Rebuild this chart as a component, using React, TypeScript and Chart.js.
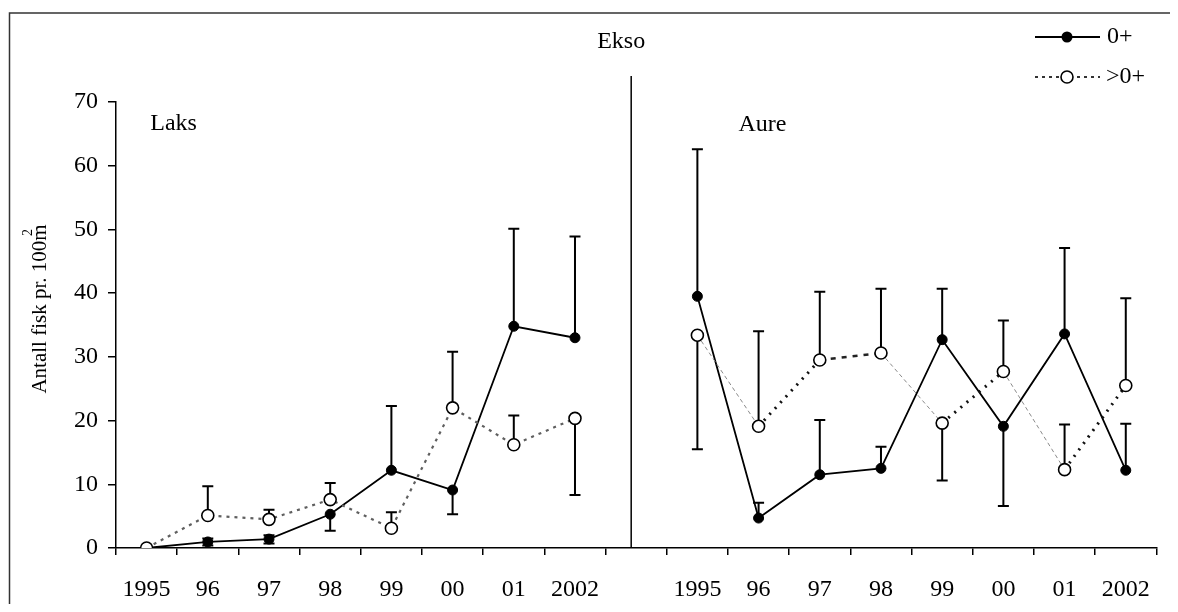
import React, { useEffect, useRef } from "react";
import { Chart, registerables } from "chart.js";

Chart.register(...registerables);

// ---- data ----
const years = ["1995", "96", "97", "98", "99", "00", "01", "2002"];
const yTicks = [0, 10, 20, 30, 40, 50, 60, 70];

// Laks (salmon)
const laksYoung = [0, 0.95, 1.4, 5.3, 12.2, 9.1, 34.8, 33.0];
const laksYoungLo = [null, 0.4, 0.7, 2.7, null, 5.3, null, null];
const laksYoungHi = [null, 1.5, 2.0, null, 22.3, null, 50.1, 48.9];
const laksOld = [0, 5.1, 4.5, 7.6, 3.1, 22.0, 16.2, 20.35];
const laksOldLo = [null, null, null, null, null, null, null, 8.3];
const laksOldHi = [null, 9.7, 6.0, 10.2, 5.6, 30.8, 20.8, null];

// Aure (trout)
const aureYoung = [39.5, 4.7, 11.5, 12.5, 32.7, 19.1, 33.6, 12.2];
const aureYoungLo = [null, null, null, null, null, 6.6, null, null];
const aureYoungHi = [62.6, 7.1, 20.1, 15.9, 40.7, null, 47.1, 19.5];
const aureOld = [33.4, 19.1, 29.5, 30.6, 19.6, 27.7, 12.3, 25.5];
const aureOldLo = [15.5, null, null, null, 10.6, null, null, null];
const aureOldHi = [null, 34.0, 40.2, 40.7, null, 35.7, 19.4, 39.2];

const FONT = '"Liberation Serif", "Times New Roman", serif';

export default function App() {
  const ref = useRef<HTMLCanvasElement>(null);

  useEffect(() => {
    if (!ref.current) return;
    const labels = [...years, "", ...years];
    const young = [...laksYoung, null, ...aureYoung];
    const youngLo = [...laksYoungLo, null, ...aureYoungLo];
    const youngHi = [...laksYoungHi, null, ...aureYoungHi];
    const old = [...laksOld, null, ...aureOld];
    const oldLo = [...laksOldLo, null, ...aureOldLo];
    const oldHi = [...laksOldHi, null, ...aureOldHi];

    const oldStyle = (c: any) => {
      if (c.p0DataIndex < years.length) return { color: "#5f5f5f", dash: [3, 5], width: 2.2 };
      const d = c.p1.parsed.y - c.p0.parsed.y;
      if (d < -2) return { color: "#8a8a8a", dash: [4, 3], width: 1 };
      if (d > 2) return { color: "#111", dash: [2, 6], width: 3 };
      return { color: "#222", dash: [5, 6], width: 2.5 };
    };

    const errorBars = {
      id: "errorBars",
      beforeDatasetsDraw(chart: any) {
        const ctx = chart.ctx;
        const ys = chart.scales.y;
        ctx.save();
        ctx.strokeStyle = "#000";
        ctx.lineWidth = 2;
        chart.data.datasets.forEach((ds: any, i: number) => {
          const meta = chart.getDatasetMeta(i);
          meta.data.forEach((pt: any, j: number) => {
            if (ds.data[j] == null) return;
            [ds.errLo[j], ds.errHi[j]].forEach((e: any) => {
              if (e == null) return;
              const py = ys.getPixelForValue(e);
              ctx.beginPath();
              ctx.moveTo(pt.x, pt.y);
              ctx.lineTo(pt.x, py);
              ctx.moveTo(pt.x - 5.5, py);
              ctx.lineTo(pt.x + 5.5, py);
              ctx.stroke();
            });
          });
        });
        ctx.restore();
      },
    };

    const decorations = {
      id: "decorations",
      afterDraw(chart: any) {
        const ctx = chart.ctx;
        const xs = chart.scales.x;
        const area = chart.chartArea;
        ctx.save();
        // outer frame (left + top)
        ctx.strokeStyle = "#333";
        ctx.lineWidth = 1.5;
        ctx.beginPath();
        ctx.moveTo(1.5, chart.height + 5);
        ctx.lineTo(1.5, 5);
        ctx.lineTo(chart.width + 5, 5);
        ctx.stroke();

        // divider between panels
        const dx = xs.getPixelForValue(years.length) - 5;
        ctx.strokeStyle = "#000";
        ctx.lineWidth = 1.5;
        ctx.beginPath();
        ctx.moveTo(dx, 68);
        ctx.lineTo(dx, area.bottom);
        ctx.stroke();

        ctx.fillStyle = "#000";
        ctx.font = `24px ${FONT}`;
        ctx.textAlign = "center";
        ctx.textBaseline = "middle";
        ctx.fillText("Ekso", dx - 10, 34);
        ctx.fillText("Laks", xs.getPixelForValue(0) + 27, 116);
        ctx.fillText("Aure", xs.getPixelForValue(years.length + 1) + 65, 117);

        // y axis title
        ctx.save();
        ctx.translate(32, (area.top + area.bottom) / 2 - 16);
        ctx.rotate(-Math.PI / 2);
        ctx.font = `21px ${FONT}`;
        const t = "Antall fisk pr. 100m";
        ctx.fillText(t, 0, 0);
        const w = ctx.measureText(t).width;
        const mw = ctx.measureText("m").width;
        ctx.font = `14px ${FONT}`;
        ctx.fillText("2", w / 2 - mw / 2, -12);
        ctx.restore();

        // legend
        const lx0 = 1027, lx1 = 1092, mx = 1059;
        ctx.textAlign = "left";
        ctx.font = `24px ${FONT}`;
        // row 1: 0+
        ctx.strokeStyle = "#000";
        ctx.lineWidth = 1.8;
        ctx.setLineDash([]);
        ctx.beginPath();
        ctx.moveTo(lx0, 29);
        ctx.lineTo(lx1, 29);
        ctx.stroke();
        ctx.beginPath();
        ctx.arc(mx, 29, 5.5, 0, Math.PI * 2);
        ctx.fill();
        ctx.fillText("0+", 1099, 29);
        // row 2: >0+
        ctx.strokeStyle = "#333";
        ctx.lineWidth = 2;
        ctx.setLineDash([3, 4]);
        ctx.beginPath();
        ctx.moveTo(lx0, 69);
        ctx.lineTo(lx1, 69);
        ctx.stroke();
        ctx.setLineDash([]);
        ctx.beginPath();
        ctx.arc(mx, 69, 6, 0, Math.PI * 2);
        ctx.fillStyle = "#fff";
        ctx.fill();
        ctx.strokeStyle = "#000";
        ctx.lineWidth = 1.6;
        ctx.stroke();
        ctx.fillStyle = "#000";
        ctx.fillText(">0+", 1098, 69);
        ctx.restore();
      },
    };

    const chart = new Chart(ref.current, {
      type: "line",
      data: {
        labels,
        datasets: [
          {
            label: ">0+",
            data: old,
            errLo: oldLo,
            errHi: oldHi,
            borderColor: "#555",
            borderWidth: 2,
            pointRadius: 6,
            pointBackgroundColor: "#fff",
            pointBorderColor: "#000",
            pointBorderWidth: 1.6,
            spanGaps: false,
            segment: {
              borderColor: (c: any) => oldStyle(c).color,
              borderDash: (c: any) => oldStyle(c).dash,
              borderWidth: (c: any) => oldStyle(c).width,
            },
          } as any,
          {
            label: "0+",
            data: young,
            errLo: youngLo,
            errHi: youngHi,
            borderColor: "#000",
            borderWidth: 1.8,
            pointRadius: 5,
            pointBackgroundColor: "#000",
            pointBorderColor: "#000",
            pointBorderWidth: 1,
            spanGaps: false,
          } as any,
        ],
      },
      options: {
        responsive: false,
        animation: false,
        events: [],
        layout: { padding: { top: 94, right: 3, left: 0, bottom: 0 } },
        plugins: {
          legend: { display: false },
          title: { display: false },
          tooltip: { enabled: false },
        },
        scales: {
          x: {
            type: "category",
            offset: true,
            grid: {
              offset: true,
              drawOnChartArea: false,
              drawTicks: true,
              tickLength: 7,
              color: "#000",
              lineWidth: 1.5,
            },
            border: { display: true, color: "#000", width: 1.5 },
            ticks: {
              font: { family: FONT, size: 24 },
              color: "#000",
              padding: 20,
              autoSkip: false,
              maxRotation: 0,
            },
            afterFit: (s: any) => {
              s.height = 56;
            },
          },
          y: {
            min: yTicks[0],
            max: yTicks[yTicks.length - 1],
            afterBuildTicks: (s: any) => {
              s.ticks = yTicks.map((v) => ({ value: v }));
            },
            grid: {
              drawOnChartArea: false,
              drawTicks: true,
              tickLength: 8,
              color: "#000",
              lineWidth: 1.5,
            },
            border: { display: true, color: "#000", width: 1.5 },
            ticks: {
              font: { family: FONT, size: 24 },
              color: "#000",
              padding: 10,
            },
            afterFit: (s: any) => {
              s.width = 108;
            },
          },
        },
      },
      plugins: [errorBars, decorations],
    } as any);

    return () => chart.destroy();
  }, []);

  return <canvas ref={ref} width={1162} height={596} style={{ display: "block" }} />;
}
